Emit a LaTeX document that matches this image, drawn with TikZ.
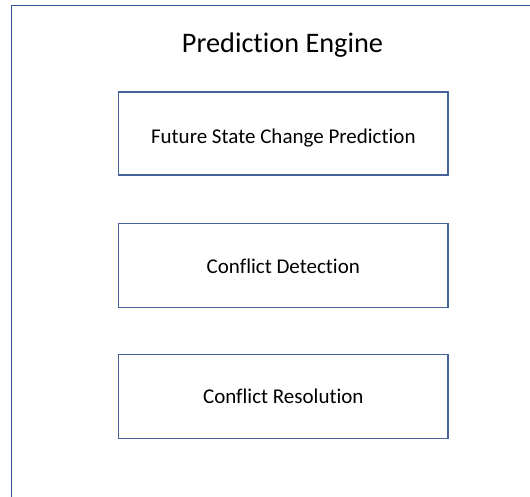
\documentclass[tikz,border=0pt]{standalone}
\usepackage{fontspec}
\setmainfont{Carlito}[Ligatures=NoCommon]
\definecolor{framecol}{HTML}{34569A}
\definecolor{boxcol}{HTML}{46629A}
\tikzset{
  stagebox/.style={draw=boxcol, line width=1.3pt},
  stagelabel/.style={anchor=base, inner sep=0pt, font=\fontsize{21}{25}\selectfont},
  titlelabel/.style={anchor=base, inner sep=0pt, font=\fontsize{28.3}{34}\selectfont}
}
\begin{document}
\begin{tikzpicture}[x=1pt,y=-1pt]
  \useasboundingbox (0,0) rectangle (530,497);
  % open outer frame: left side and top only
  \draw[framecol, line width=1.4pt] (11.5,497) -- (11.5,5.5) -- (530,5.5);
  \node[titlelabel] (title) at (282.5,52.7) {Prediction Engine};
  % the three stages
  \draw[stagebox] (118.5,92) rectangle (448,175);
  \node[stagelabel] (predict) at (283.3,143.3) {Future State Change Prediction};
  \draw[stagebox] (118.5,223.3) rectangle (448,307.7);
  \node[stagelabel] (detect) at (283.3,273.3) {Conflict Detection};
  \draw[stagebox] (118.5,354.3) rectangle (448,438.3);
  \node[stagelabel] (resolve) at (283.3,403.3) {Conflict Resolution};
\end{tikzpicture}
\end{document}
